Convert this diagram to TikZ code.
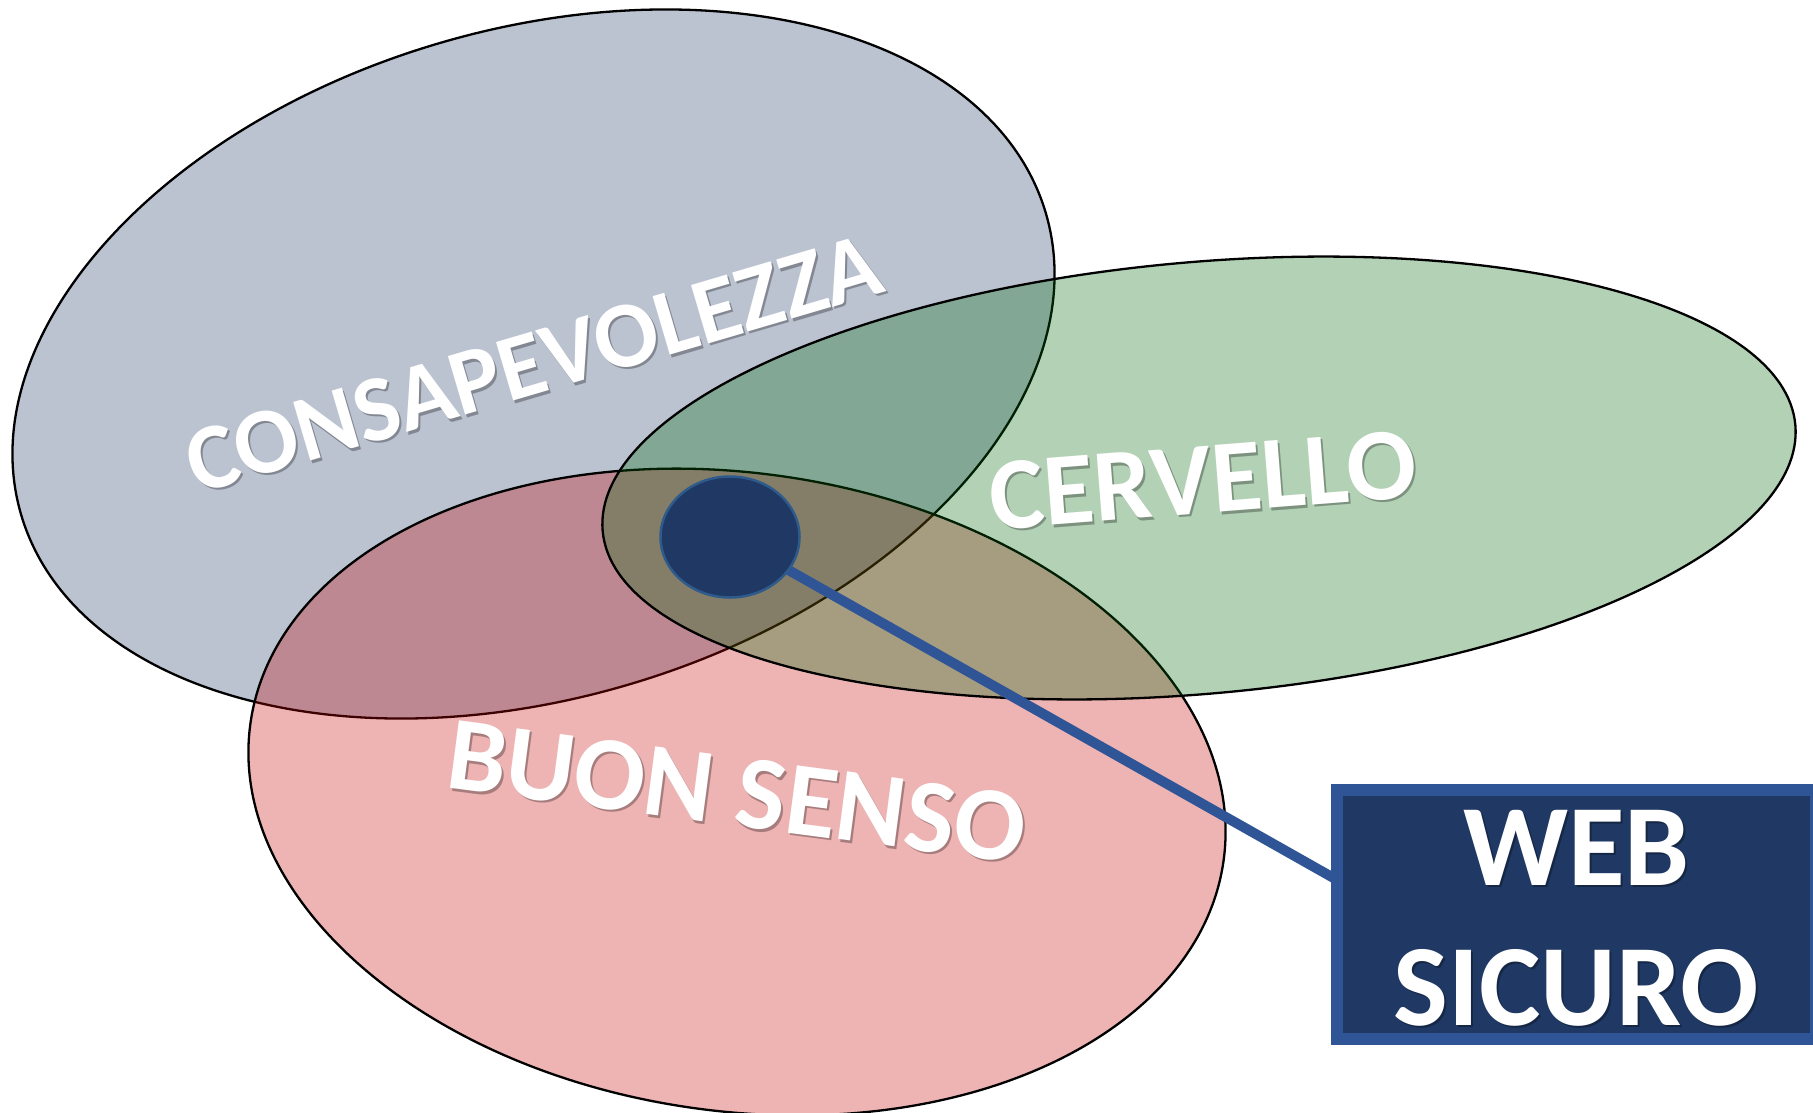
\documentclass[tikz,border=0pt]{standalone}
\usepackage{fontspec}
\setmainfont{Carlito}
\usetikzlibrary{shapes.geometric,calc}
\definecolor{blueset}{RGB}{31,56,100}
\definecolor{greenset}{RGB}{0,105,10}
\definecolor{redset}{RGB}{200,5,5}
\definecolor{navyfill}{RGB}{31,56,100}
\definecolor{linkblue}{RGB}{47,85,151}
\definecolor{ringblue}{RGB}{46,90,140}
\pgfdeclarelayer{back}
\pgfdeclarelayer{mid}
\pgfsetlayers{back,mid,main}
\begin{document}
\begin{tikzpicture}[x=1pt,y=-1pt,
  setellipse/.style={ellipse, draw=black, line width=2.3pt, inner sep=0pt, outer sep=0pt, fill opacity=0.3},
  settext/.style={text=white, inner sep=0pt, outer sep=0pt, font=\fontsize{#1}{#1}\selectfont\bfseries},
  textshadow/.style={text=black, text opacity=0.3, inner sep=0pt, outer sep=0pt, font=\fontsize{#1}{#1}\selectfont\bfseries},
  boxtext/.style={text=white, inner sep=0pt, outer sep=0pt, align=center, font=\fontsize{116}{140}\selectfont\bfseries},
  boxshadow/.style={text=black, text opacity=0.3, inner sep=0pt, outer sep=0pt, align=center, font=\fontsize{116}{140}\selectfont\bfseries}
]
\useasboundingbox (0,0) rectangle (1813,1112);
\begin{pgfonlayer}{back}
\fill[white] (0,0) rectangle (1813,1112);
\clip (0,0) rectangle (1813,1112);
\node[setellipse, fill=blueset, minimum width=1068.2pt, minimum height=668.8pt, rotate=16.4] (consap) at (533.5,364) {};
\node[setellipse, fill=redset, minimum width=982.8pt, minimum height=638pt, rotate=-8.1] (buon) at (737,792) {};
\node[setellipse, fill=greenset, minimum width=1197.4pt, minimum height=431.6pt, rotate=5.08] (cerv) at (1199,478) {};
\end{pgfonlayer}

\clip (0,0) rectangle (1813,1112);
\node[ellipse, draw=ringblue, line width=2.5pt, fill=navyfill, minimum width=139pt, minimum height=121pt, inner sep=0pt, outer sep=0pt] (hub) at (730,537) {};
\node[draw=linkblue, line width=12pt, fill=navyfill, minimum width=479pt, minimum height=249pt, inner sep=0pt, outer sep=0pt] (web) at (1576.5,914.5) {};
\coordinate (lend) at ($(web.north west)!0.361!(web.south west)$);
\begin{pgfonlayer}{mid}
\draw[linkblue, line width=10pt] (hub.center) -- (lend);
\end{pgfonlayer}

\node[textshadow=94, rotate=16.4] (tconsaps) at (535.5,366) {CONSAPEVOLEZZA};
\node[settext=94, rotate=16.4] (tconsap) at (533.5,363.5) {CONSAPEVOLEZZA};
\node[textshadow=103, rotate=4.5] (tcervs) at (1205,482.5) {CERVELLO};
\node[settext=103, rotate=4.5] (tcerv) at (1203,480) {CERVELLO};
\node[textshadow=105, rotate=-7.5] (tbuons) at (739,794.5) {BUON SENSO};
\node[settext=105, rotate=-7.5] (tbuon) at (737,792) {BUON SENSO};
\node[boxshadow] (twebs) at (1578.5,920.5) {WEB\\SICURO};
\node[boxtext] (tweb) at (1576.5,918) {WEB\\SICURO};
\end{tikzpicture}
\end{document}
